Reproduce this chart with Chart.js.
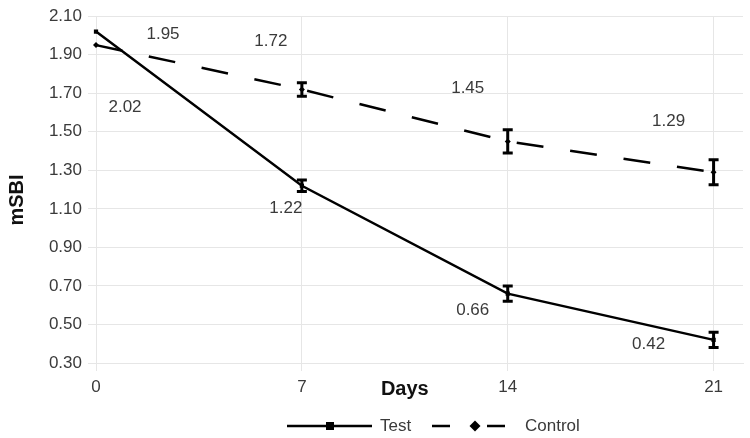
<!DOCTYPE html>
<html>
<head>
<meta charset="utf-8">
<style>
  html, body { margin: 0; padding: 0; background: #ffffff; }
  #wrap { width: 750px; height: 438px; }
</style>
<script src="https://cdn.jsdelivr.net/npm/chart.js@4/dist/chart.umd.min.js"></script>
</head>
<body>
<div id="wrap"><canvas id="c" width="750" height="438"></canvas></div>
<script>
// ---- data ----
const days = [0, 7, 14, 21];
const testValues = [2.02, 1.22, 0.66, 0.42];
const controlValues = [1.95, 1.72, 1.45, 1.29];
const testErrors = [0, 0.03, 0.04, 0.04];
const controlErrors = [0, 0.035, 0.06, 0.065];
const yTickValues = [0.30, 0.50, 0.70, 0.90, 1.10, 1.30, 1.50, 1.70, 1.90, 2.10];
const seriesNames = ['Test', 'Control'];
const xTitle = 'Days';
const yTitle = 'mSBI';

// ---- styles ----
const TEXT = '#3a3a3a';
const GRID = '#e6e6e6';
const FONT = '"Liberation Sans", Arial, sans-serif';
// label offsets (px) from each point
const testLabelOffsets = [[29, 76], [-16, 23], [-35, 17], [-65, 4]];
const controlLabelOffsets = [[67, -11], [-31, -48], [-40, -53], [-45, -51]];

const toPoints = (vals) => days.map((d, i) => ({ x: d, y: vals[i] }));

const errorBarPlugin = {
  id: 'errorBars',
  afterDatasetsDraw(chart) {
    const ctx = chart.ctx;
    const xs = chart.scales.x, ys = chart.scales.y;
    const sets = [testErrors, controlErrors];
    const vals = [testValues, controlValues];
    ctx.save();
    ctx.strokeStyle = '#000';
    ctx.lineWidth = 3;
    ctx.setLineDash([]);
    sets.forEach((errs, s) => {
      errs.forEach((e, i) => {
        if (!e) return;
        const x = xs.getPixelForValue(days[i]);
        const y1 = ys.getPixelForValue(vals[s][i] + e);
        const y2 = ys.getPixelForValue(vals[s][i] - e);
        ctx.beginPath();
        ctx.moveTo(x, y1); ctx.lineTo(x, y2);
        ctx.moveTo(x - 5, y1); ctx.lineTo(x + 5, y1);
        ctx.moveTo(x - 5, y2); ctx.lineTo(x + 5, y2);
        ctx.stroke();
      });
    });
    ctx.restore();
  }
};

const labelPlugin = {
  id: 'valueLabels',
  afterDraw(chart) {
    const ctx = chart.ctx;
    const xs = chart.scales.x, ys = chart.scales.y;
    ctx.save();
    ctx.fillStyle = TEXT;
    ctx.font = '17px ' + FONT;
    ctx.textAlign = 'center';
    ctx.textBaseline = 'middle';
    const draw = (vals, offs) => vals.forEach((v, i) => {
      const x = xs.getPixelForValue(days[i]) + offs[i][0];
      const y = ys.getPixelForValue(v) + offs[i][1];
      ctx.fillText(v.toFixed(2), x, y);
    });
    draw(testValues, testLabelOffsets);
    draw(controlValues, controlLabelOffsets);

    // axis titles
    ctx.font = 'bold 20px ' + FONT;
    ctx.fillStyle = '#111';
    ctx.fillText(xTitle, xs.getPixelForValue(10.5), 389);
    ctx.save();
    ctx.translate(17, chart.chartArea.top + 0.53 * (chart.chartArea.bottom - chart.chartArea.top));
    ctx.rotate(-Math.PI / 2);
    ctx.fillText(yTitle, 0, 0);
    ctx.restore();

    // legend
    const ly = 426;
    ctx.strokeStyle = '#000';
    ctx.fillStyle = '#000';
    ctx.lineWidth = 2.5;
    ctx.beginPath();
    ctx.moveTo(287, ly); ctx.lineTo(372, ly);
    ctx.stroke();
    ctx.fillRect(326, ly - 4, 8, 8);
    ctx.beginPath();
    ctx.moveTo(432, ly); ctx.lineTo(450, ly);
    ctx.moveTo(487, ly); ctx.lineTo(505, ly);
    ctx.stroke();
    ctx.beginPath();
    ctx.moveTo(475, ly - 5.5); ctx.lineTo(480.5, ly); ctx.lineTo(475, ly + 5.5); ctx.lineTo(469.5, ly);
    ctx.closePath(); ctx.fill();
    ctx.fillStyle = TEXT;
    ctx.font = '17px ' + FONT;
    ctx.textAlign = 'left';
    ctx.fillText(seriesNames[0], 380, ly);
    ctx.fillText(seriesNames[1], 525, ly);
    ctx.restore();
  }
};

new Chart(document.getElementById('c'), {
  type: 'line',
  data: {
    datasets: [
      {
        label: seriesNames[0],
        data: toPoints(testValues),
        borderColor: '#000',
        backgroundColor: '#000',
        borderWidth: 2.5,
        pointStyle: 'rect',
        pointRadius: 3,
        pointBorderWidth: 0,
        tension: 0,
        clip: false
      },
      {
        label: seriesNames[1],
        data: toPoints(controlValues),
        borderColor: '#000',
        backgroundColor: '#000',
        borderWidth: 2.5,
        borderDash: [27, 27],
        pointStyle: 'rectRot',
        pointRadius: 3,
        pointBorderWidth: 0,
        tension: 0,
        clip: false
      }
    ]
  },
  options: {
    responsive: false,
    animation: false,
    layout: { padding: { top: 13, right: 7, left: 0, bottom: 0 } },
    plugins: {
      legend: { display: false },
      tooltip: { enabled: false },
      title: { display: false }
    },
    scales: {
      x: {
        type: 'linear',
        min: 0,
        max: 22,
        afterBuildTicks(scale) { scale.ticks = days.map(v => ({ value: v })); },
        afterFit(scale) { scale.height = 75; },
        grid: { color: GRID, lineWidth: 1, tickLength: 8, drawTicks: true, tickColor: GRID },
        border: { color: GRID },
        ticks: {
          color: TEXT,
          font: { family: FONT, size: 17 },
          padding: 6,
          maxRotation: 0,
          callback: (v) => String(v)
        }
      },
      y: {
        min: 0.3,
        max: 2.1,
        afterBuildTicks(scale) { scale.ticks = yTickValues.map(v => ({ value: v })); },
        afterFit(scale) { scale.width = 96; },
        grid: { color: GRID, lineWidth: 1, tickLength: 8, tickColor: GRID },
        border: { color: GRID },
        ticks: {
          color: TEXT,
          font: { family: FONT, size: 17 },
          padding: 6,
          callback: (v) => Number(v).toFixed(2)
        }
      }
    }
  },
  plugins: [errorBarPlugin, labelPlugin]
});
</script>
</body>
</html>
